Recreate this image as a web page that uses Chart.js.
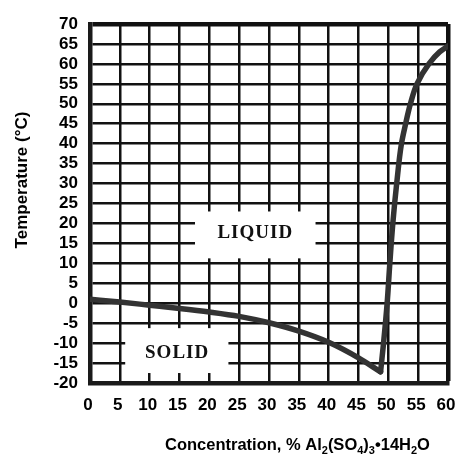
<!DOCTYPE html>
<html>
<head>
<meta charset="utf-8">
<script src="https://cdn.jsdelivr.net/npm/chart.js@4/dist/chart.umd.min.js"></script>
<style>
  html, body { margin: 0; padding: 0; background: #fff; }
  #wrap { width: 457px; height: 458px; position: relative; }
</style>
</head>
<body>
<div id="wrap"><canvas id="c" width="457" height="458"></canvas></div>
<script>
// ---- data ----
const xTicks = [0, 5, 10, 15, 20, 25, 30, 35, 40, 45, 50, 55, 60];
const yTicks = [-20, -15, -10, -5, 0, 5, 10, 15, 20, 25, 30, 35, 40, 45, 50, 55, 60, 65, 70];

// freezing (ice) branch
const lowerConc = [0, 5, 10, 15, 20, 25, 30, 35, 40, 45, 48.7];
const lowerTemp = [1, 0.3, -0.5, -1.3, -2.2, -3.3, -4.9, -7, -9.8, -13.7, -17.2];

// solubility branch
const upperConc = [48.7, 49.2, 49.8, 50.25, 50.75, 51.4, 52.2, 52.9, 53.7, 54.8, 56.8, 58.6, 60];
const upperTemp = [-17.2, -10, 0, 10, 20, 30, 40, 45, 50, 55, 60, 63, 64.5];

// region labels
const regionLabels = ['LIQUID', 'SOLID'];
const regionLabelConc = [27.7, 14.6];
const regionLabelTemp = [17.5, -12.5];
const regionBoxConc = [[17.6, 37.8], [5.9, 23.2]];
const regionBoxTemp = [[11.25, 23], [-17.5, -6.25]];

const xTitleParts = [['Concentration, % Al', 0], ['2', 1], ['(SO', 0], ['4', 1], [')', 0], ['3', 1], ['\u202214H', 0], ['2', 1], ['O', 0]];
const yTitle = 'Temperature (\u00B0C)';

const toXY = (xs, ys) => xs.map((x, i) => ({ x: x, y: ys[i] }));

const labelPlugin = {
  id: 'regionLabels',
  beforeDatasetsDraw(chart) {
    const ctx = chart.ctx, xs = chart.scales.x, ys = chart.scales.y;
    ctx.save();
    regionLabels.forEach((t, i) => {
      const x0 = xs.getPixelForValue(regionBoxConc[i][0]);
      const x1 = xs.getPixelForValue(regionBoxConc[i][1]);
      const y0 = ys.getPixelForValue(regionBoxTemp[i][1]);
      const y1 = ys.getPixelForValue(regionBoxTemp[i][0]);
      ctx.fillStyle = '#ffffff';
      ctx.fillRect(x0, y0, x1 - x0, y1 - y0);
      ctx.fillStyle = '#111';
      ctx.font = 'bold 19px "Liberation Serif", serif';
      ctx.textAlign = 'center';
      ctx.textBaseline = 'middle';
      try { ctx.letterSpacing = '1px'; } catch (e) {}
      ctx.fillText(t, xs.getPixelForValue(regionLabelConc[i]), ys.getPixelForValue(regionLabelTemp[i]));
    });
    ctx.restore();
  },
  afterDraw(chart) {
    const ctx = chart.ctx;
    ctx.save();
    ctx.fillStyle = '#000';
    // x title with subscripts
    const big = 'bold 16.5px "Liberation Sans", Arial, sans-serif';
    const small = 'bold 11px "Liberation Sans", Arial, sans-serif';
    ctx.textAlign = 'left';
    ctx.textBaseline = 'alphabetic';
    let x = 165;
    const base = 450;
    xTitleParts.forEach(([s, sub]) => {
      ctx.font = sub ? small : big;
      ctx.fillText(s, x, sub ? base + 4 : base);
      x += ctx.measureText(s).width;
    });
    // y title
    ctx.translate(22, 180);
    ctx.rotate(-Math.PI / 2);
    ctx.font = 'bold 17px "Liberation Sans", Arial, sans-serif';
    ctx.textAlign = 'center';
    ctx.textBaseline = 'middle';
    ctx.fillText(yTitle, 0, 0);
    ctx.restore();
  }
};

const tickFont = { family: '"Liberation Sans", Arial, sans-serif', size: 17, weight: 'bold' };

new Chart(document.getElementById('c'), {
  type: 'line',
  data: {
    datasets: [
      { data: toXY(lowerConc, lowerTemp), borderColor: '#333', borderWidth: 5.5, pointRadius: 0,
        cubicInterpolationMode: 'monotone', borderCapStyle: 'round', borderJoinStyle: 'round' },
      { data: toXY(upperConc, upperTemp), indexAxis: 'y', borderColor: '#333', borderWidth: 5.5, pointRadius: 0,
        cubicInterpolationMode: 'monotone', borderCapStyle: 'round', borderJoinStyle: 'round' }
    ]
  },
  options: {
    responsive: false,
    animation: false,
    events: [],
    layout: { padding: { top: 24, right: 9, left: 0, bottom: 0 } },
    plugins: { legend: { display: false }, tooltip: { enabled: false } },
    scales: {
      x: {
        type: 'linear', min: 0, max: 60,
        afterBuildTicks: s => { s.ticks = xTicks.map(v => ({ value: v })); },
        afterFit: s => { s.height = 75; s.paddingLeft = 0; s.paddingRight = 0; },
        ticks: { font: tickFont, color: '#000', padding: 12, labelOffset: -2, maxRotation: 0, autoSkip: false },
        grid: { color: '#111', lineWidth: c => (c.tick && c.tick.value === 60 ? 4.5 : 2.5), drawTicks: false },
        border: { display: true, color: '#1a1a1a', width: 4.5 }
      },
      y: {
        type: 'linear', min: -20, max: 70,
        afterBuildTicks: s => { s.ticks = yTicks.map(v => ({ value: v })); },
        afterFit: s => { s.width = 90; s.paddingTop = 0; s.paddingBottom = 0; },
        ticks: { font: tickFont, color: '#000', padding: 12, autoSkip: false },
        grid: { color: '#111', lineWidth: c => (c.tick && c.tick.value === 70 ? 4.5 : 2.5), drawTicks: false },
        border: { display: true, color: '#1a1a1a', width: 4.5 }
      }
    }
  },
  plugins: [labelPlugin]
});
</script>
</body>
</html>
